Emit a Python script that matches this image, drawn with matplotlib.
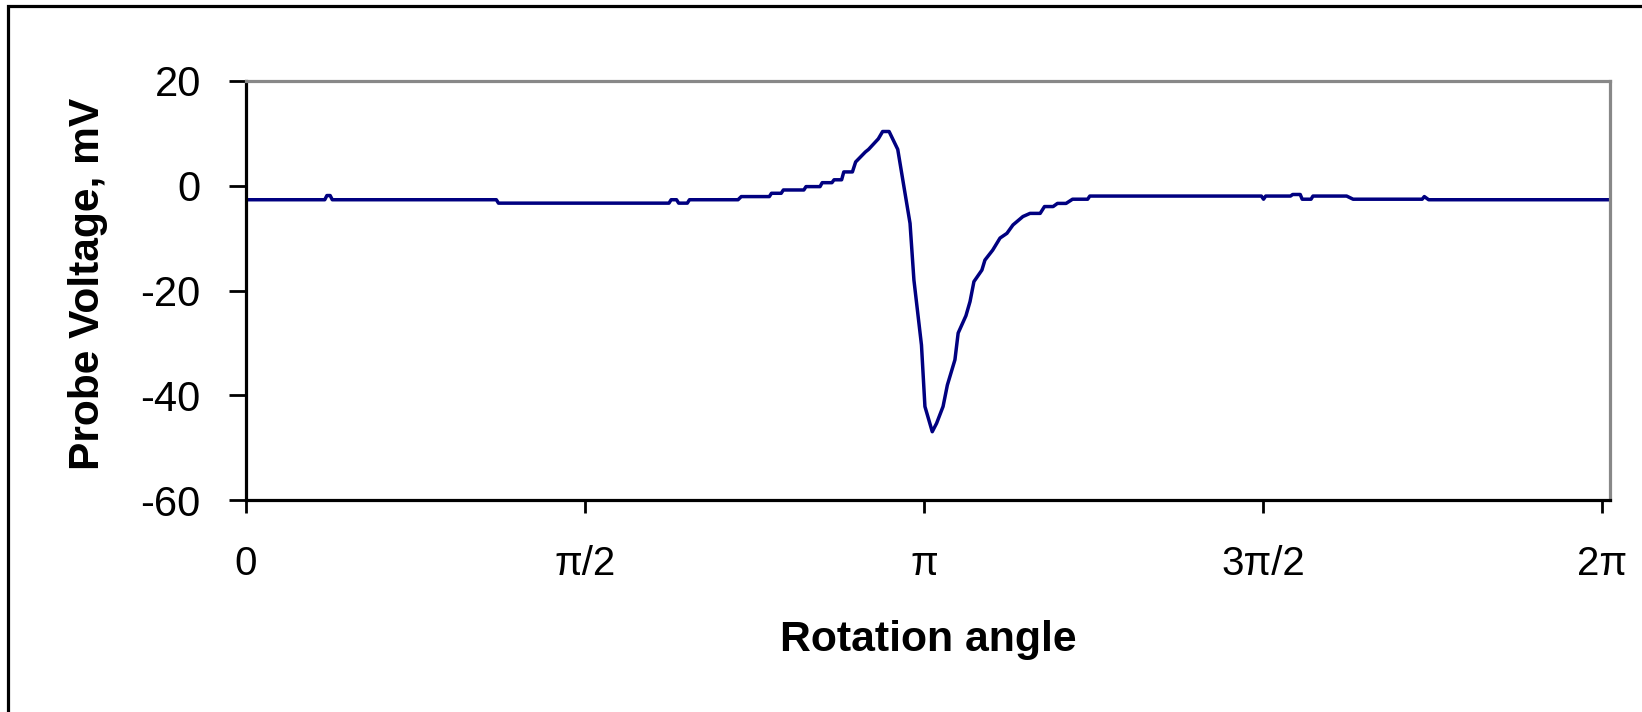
import numpy as np
import matplotlib
matplotlib.use("Agg")
import matplotlib.pyplot as plt
from matplotlib.patches import Rectangle

# probe trace: rotation angle (rad) vs voltage (mV)
angle = [0.000, 0.365, 0.375, 0.390, 0.400, 1.160, 1.170, 1.960, 1.970, 1.995,
         2.005, 2.045, 2.055, 2.280, 2.295, 2.425, 2.435, 2.480, 2.490, 2.585,
         2.595, 2.660, 2.670, 2.715, 2.725, 2.760, 2.770, 2.810, 2.825, 2.870,
         2.885, 2.930, 2.950, 2.980, 3.020, 3.045, 3.077, 3.095, 3.130, 3.146,
         3.180, 3.200, 3.230, 3.250, 3.285, 3.300, 3.336, 3.355, 3.373, 3.410,
         3.424, 3.460, 3.494, 3.526, 3.554, 3.600, 3.633, 3.680, 3.700, 3.740,
         3.760, 3.800, 3.830, 3.900, 3.910, 4.705, 4.715, 4.725, 4.840, 4.850,
         4.885, 4.894, 4.935, 4.944, 5.100, 5.130, 5.450, 5.460, 5.480, 6.310]
voltage = [-2.7, -2.7, -1.9, -1.9, -2.7, -2.7, -3.35, -3.35, -2.7, -2.7,
           -3.35, -3.35, -2.7, -2.7, -2.1, -2.1, -1.47, -1.47, -0.84, -0.84,
           -0.2, -0.2, 0.55, 0.55, 1.1, 1.1, 2.6, 2.6, 4.5, 6.4,
           6.9, 8.9, 10.3, 10.3, 6.9, 0.7, -7.2, -18.0, -30.4, -42.1,
           -46.9, -45.3, -42.1, -38.0, -33.2, -28.1, -24.8, -22.1, -18.3, -16.1,
           -14.2, -12.3, -10.0, -9.1, -7.5, -5.9, -5.3, -5.3, -4.0, -4.0,
           -3.4, -3.4, -2.6, -2.6, -2.0, -2.0, -2.6, -2.0, -2.0, -1.7,
           -1.7, -2.6, -2.6, -2.0, -2.0, -2.6, -2.6, -2.1, -2.7, -2.7]

x_ticks = [0, np.pi / 2, np.pi, 3 * np.pi / 2, 2 * np.pi]
x_labels = ["0", "π/2", "π", "3π/2", "2π"]
y_ticks = [20, 0, -20, -40, -60]
y_labels = ["20", "0", "-20", "-40", "-60"]

plt.rcParams['font.family'] = ['Liberation Sans', 'DejaVu Sans']

fig = plt.figure(figsize=(16.42, 7.12), dpi=100)
ax = fig.add_axes([0.1498, 0.2971, 0.8307, 0.5897])

ax.plot(angle, voltage, color="#000080", linewidth=2.5)

ax.set_xlim(0, 2 * np.pi * 1364 / 1356)
ax.set_ylim(-60, 20)
ax.set_xticks(x_ticks)
ax.set_xticklabels(x_labels)
ax.set_yticks(y_ticks)
ax.set_yticklabels(y_labels)
ax.tick_params(axis="y", direction="out", length=12, width=2, pad=20.5, labelsize=30)
ax.tick_params(axis="x", direction="out", length=9, width=2, pad=23, labelsize=29)

for side in ["left", "bottom"]:
    ax.spines[side].set_color("black")
    ax.spines[side].set_linewidth(2.3)
for side in ["top", "right"]:
    ax.spines[side].set_color("#888888")
    ax.spines[side].set_linewidth(2.3)

ax.set_xlabel("Rotation angle", fontsize=30.8, fontweight="bold")
ax.xaxis.set_label_coords(0.5, -0.285)
ax.set_ylabel("Probe Voltage, mV", fontsize=30.6, fontweight="bold")
ax.yaxis.set_label_coords(-0.101, 0.515)

# outer chart frame (only left and top edges fall inside the image)
fig.add_artist(Rectangle((8 / 1642, -0.1), 1.2, 1.1 - 6 / 712, transform=fig.transFigure,
                         fill=False, edgecolor="black", linewidth=2.3))

fig.savefig("out.png", dpi=100)
